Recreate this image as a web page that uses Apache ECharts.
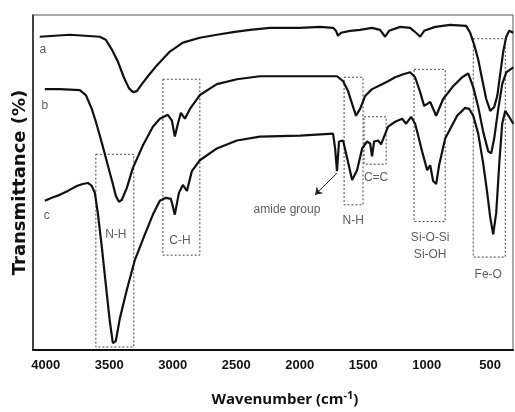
<!DOCTYPE html>
<html>
<head>
<meta charset="utf-8">
<script src="https://cdn.jsdelivr.net/npm/echarts@6/dist/echarts.min.js"></script>
<style>html,body{margin:0;padding:0;background:#fff}#c{width:515px;height:412px}</style>
</head>
<body>
<div id="c"></div>
<script>
// Wavenumber (cm-1), transmittance (arbitrary units, stacked traces)
const curveA = [[4047,317],[3929,318],[3810,319],[3692,318],[3574,317],[3527,314],[3479,304],[3432,292],[3385,276],[3345,265],[3314,261],[3282,262],[3243,269],[3195,277],[3125,288],[3022,302],[2920,311],[2786,316],[2652,319],[2510,322],[2391,324],[2234,326],[1997,326],[1840,327],[1737,326],[1714,323],[1698,318],[1674,321],[1603,323],[1524,324],[1430,326],[1367,324],[1327,317],[1296,323],[1209,327],[1130,326],[1075,320],[1051,317],[1020,323],[933,327],[815,329],[689,328],[657,321],[626,309],[594,294],[563,274],[531,254],[499,242],[468,246],[444,257],[421,279],[397,302],[373,317],[350,323],[318,321]];
const curveB = [[4007,264],[3889,264],[3731,263],[3684,258],[3637,244],[3605,231],[3574,217],[3542,202],[3511,187],[3471,168],[3448,156],[3424,150],[3400,152],[3361,164],[3314,184],[3235,207],[3156,226],[3101,234],[3038,238],[3006,232],[2983,216],[2959,229],[2935,240],[2904,234],[2864,244],[2786,258],[2652,269],[2494,274],[2313,277],[2076,277],[1840,277],[1706,277],[1658,272],[1619,262],[1587,249],[1556,237],[1524,244],[1485,257],[1430,264],[1367,268],[1304,272],[1248,276],[1185,279],[1130,281],[1091,276],[1051,261],[1020,247],[972,251],[925,237],[870,254],[791,267],[720,276],[673,280],[633,266],[594,246],[555,221],[515,201],[492,199],[468,214],[436,244],[405,269],[373,281],[318,286]];
const curveC = [[4007,151],[3952,154],[3889,157],[3826,161],[3755,166],[3708,168],[3668,169],[3637,166],[3613,159],[3590,139],[3558,104],[3519,57],[3495,29],[3471,7],[3448,9],[3416,32],[3361,61],[3298,91],[3219,117],[3156,137],[3101,151],[3054,154],[3014,153],[2983,137],[2951,159],[2920,167],[2888,161],[2849,181],[2786,192],[2652,204],[2494,212],[2313,216],[1997,217],[1737,219],[1721,204],[1706,181],[1690,211],[1658,212],[1635,199],[1587,172],[1548,182],[1508,204],[1469,211],[1445,209],[1430,196],[1414,211],[1382,212],[1359,208],[1304,226],[1248,231],[1193,234],[1162,229],[1122,236],[1091,229],[1067,217],[1036,201],[996,182],[972,187],[949,171],[925,168],[902,187],[854,214],[760,237],[697,245],[665,244],[633,237],[594,219],[555,189],[523,159],[499,134],[476,117],[452,139],[428,189],[405,229],[381,242],[350,236],[318,229]];
const xTicks = [4000,3500,3000,2500,2000,1500,1000,500];
// Dotted band boxes: [wnStart, tTop, wnEnd, tBottom]
const boxes = [[3605,198,3306,3],[3077,274,2786,96],[1650,276,1501,147],[1493,236,1319,188],[1099,284,854,130],[633,315,381,94]];
// Text annotations: [wn, t, text]
const notes = [[4023,304,'a'],[4007,247,'b'],[3992,136,'c'],[3448,117,'N-H'],[2943,111,'C-H'],[2100,142,'amide group'],[1579,131,'N-H'],[1398,174,'C=C'],[972,114,'Si-O-Si'],[972,96,'Si-OH'],[515,76,'Fe-O']];
const arrow = [[1706,179],[1879,157]];

const chart = echarts.init(document.getElementById('c'), null, {renderer:'canvas'});
const lineStyle = {color:'#111', width:2.2};
const mk = (d) => ({type:'line', data:d, showSymbol:false, symbol:'none', lineStyle:lineStyle, silent:true, animation:false, z:3});
chart.setOption({
  animation:false,
  grid:{left:33, right:2, top:15, bottom:58, show:true, borderColor:'#555', borderWidth:1},
  xAxis:{type:'value', inverse:true, min:320, max:4100,
    axisLine:{show:true, onZero:false, lineStyle:{color:'#111', width:2}},
    axisTick:{show:false}, splitLine:{show:false},
    axisLabel:{customValues:xTicks, formatter:v=>String(v), margin:9, color:'#111', fontSize:13, fontWeight:'bold', fontFamily:'Liberation Sans, sans-serif'},
    name:'Wavenumber (cm{sup|-1})', nameLocation:'middle', nameGap:40,
    nameTextStyle:{color:'#111', fontSize:15, fontWeight:'bold', fontFamily:'Open Sans, sans-serif', padding:[0,0,0,24],
      rich:{sup:{fontSize:11, fontWeight:'bold', fontFamily:'Open Sans, sans-serif', color:'#111', verticalAlign:'top', padding:[0,0,8,0]}}}
  },
  yAxis:{type:'value', min:0, max:339,
    axisLine:{show:true, lineStyle:{color:'#222', width:1.5}}, axisTick:{show:false}, axisLabel:{show:false}, splitLine:{show:false},
    name:'Transmittance (%)', nameLocation:'middle', nameGap:4, nameRotate:90,
    nameTextStyle:{color:'#111', fontSize:18, fontWeight:'bold', fontFamily:'DejaVu Sans, sans-serif'}
  },
  series:[
    mk(curveA), mk(curveB),
    Object.assign(mk(curveC), {
      markArea:{silent:true, itemStyle:{color:'rgba(0,0,0,0)', borderColor:'#444', borderWidth:1, borderType:[2,2]}, label:{show:false},
        data: boxes.map(b => [{coord:[b[0],b[1]]},{coord:[b[2],b[3]]}])}
    }),
    {type:'scatter', symbolSize:0, silent:true, animation:false, z:5,
      data: notes.map(n => ({value:[n[0],n[1]], name:n[2]})),
      label:{show:true, position:'inside', formatter:p=>p.name, color:'#333', fontSize:12, fontFamily:'Liberation Sans, sans-serif'},
      markLine:{silent:true, symbol:['none','arrow'], symbolSize:7, label:{show:false}, lineStyle:{color:'#222', width:1, type:'solid'},
        data:[[{coord:arrow[0]},{coord:arrow[1]}]]}
    }
  ]
});
</script>
</body>
</html>
